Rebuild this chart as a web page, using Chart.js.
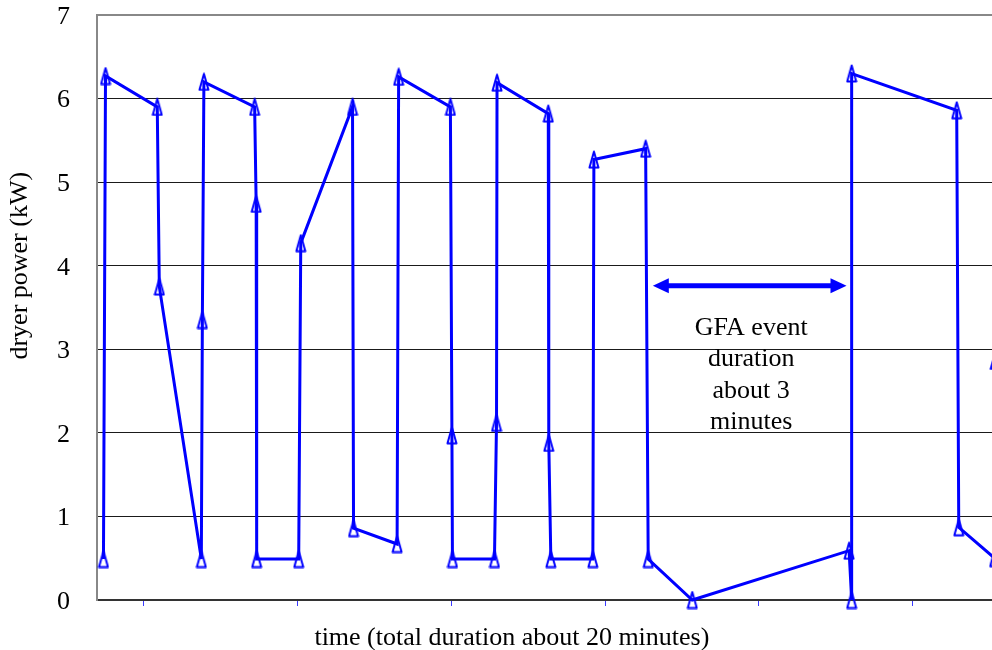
<!DOCTYPE html>
<html>
<head>
<meta charset="utf-8">
<script src="https://cdn.jsdelivr.net/npm/chart.js@4.4.1/dist/chart.umd.min.js"></script>
<style>
  html, body { margin: 0; padding: 0; background: #fff; }
  #wrap { width: 992px; height: 650px; overflow: hidden; }
  canvas { display: block; }
</style>
</head>
<body>
<div id="wrap"><canvas id="dryer" width="1100" height="650"></canvas></div>
<script>
// ====== DATA ======
// time in minutes (0 = first x tick, ticks every 3 min)
const timeMin = [
  -0.79, -0.75, 0.26, 0.30, 1.12, 1.14, 1.17, 2.16, 2.19, 2.20,
   3.02,  3.06, 4.07, 4.09, 4.94, 4.97, 5.98, 6.01, 6.02, 6.84,
   6.88,  6.89, 7.89, 7.90, 7.94, 8.76, 8.78, 9.79, 9.84, 10.70,
  13.76, 13.81, 13.81, 15.86, 15.90, 16.60, 16.61
];
const powerKW = [
  0.49, 6.27, 5.90, 3.75, 0.49, 3.35, 6.20, 5.90, 4.74, 0.49,
  0.49, 4.27, 5.90, 0.86, 0.67, 6.26, 5.90, 1.97, 0.49, 0.49,
  2.12, 6.19, 5.82, 1.88, 0.49, 0.49, 5.27, 5.40, 0.49, 0.00,
  0.59, 0.00, 6.30, 5.86, 0.87, 0.50, 2.86
];
const yTickMin = 0, yTickMax = 7, yTickStep = 1;
const xTickStep = 3;

const gfaArrowMin = [9.93, 13.71];   // ends of the double arrow
const gfaArrowKW  = 3.76;
const gfaLines = ['GFA event', 'duration', 'about 3', 'minutes'];

const xTitle = 'time (total duration about 20 minutes)';
const yTitle = 'dryer power (kW)';

// ====== LOOK ======
const BLUE = '#0000ff';
const FONT = "26px 'Liberation Serif', 'Times New Roman', serif";
const X_MIN = -0.916, X_MAX = 18.5;     // plot runs on past the right edge
const GFA_TEXT_AT = [11.85, 3.17];      // centre (min), first baseline (kW)
const X_TITLE_AT = 7.18;                // centre of x title (min)
const Y_TITLE_AT = 4.0;                 // centre of y title (kW)

// open triangle marker, a bit taller than wide
function triangleMarker() {
  const c = document.createElement('canvas');
  c.width = 12; c.height = 19;
  const g = c.getContext('2d');
  g.strokeStyle = BLUE;
  g.lineWidth = 2;
  g.lineJoin = 'round';
  g.beginPath();
  g.moveTo(6, 1.5);
  g.lineTo(10.5, 17.5);
  g.lineTo(1.5, 17.5);
  g.closePath();
  g.stroke();
  return c;
}

const points = timeMin.map((t, i) => ({ x: t, y: powerKW[i] }));

// ====== EXTRAS: arrow, note, axis titles ======
const extras = {
  id: 'extras',
  afterDatasetsDraw(chart) {
    const { ctx, chartArea, scales: { x, y } } = chart;
    ctx.save();

    // double-headed arrow
    const x0 = x.getPixelForValue(gfaArrowMin[0]);
    const x1 = x.getPixelForValue(gfaArrowMin[1]);
    const ya = y.getPixelForValue(gfaArrowKW);
    const head = 16, half = 7.5;
    ctx.strokeStyle = BLUE; ctx.fillStyle = BLUE;
    ctx.lineWidth = 5;
    ctx.beginPath(); ctx.moveTo(x0 + head - 2, ya); ctx.lineTo(x1 - head + 2, ya); ctx.stroke();
    ctx.beginPath(); ctx.moveTo(x0, ya); ctx.lineTo(x0 + head, ya - half); ctx.lineTo(x0 + head, ya + half); ctx.closePath(); ctx.fill();
    ctx.beginPath(); ctx.moveTo(x1, ya); ctx.lineTo(x1 - head, ya - half); ctx.lineTo(x1 - head, ya + half); ctx.closePath(); ctx.fill();

    // note text
    ctx.fillStyle = '#000';
    ctx.font = FONT;
    ctx.textAlign = 'center';
    ctx.textBaseline = 'alphabetic';
    const tx = x.getPixelForValue(GFA_TEXT_AT[0]);
    const ty = y.getPixelForValue(GFA_TEXT_AT[1]);
    gfaLines.forEach((s, i) => ctx.fillText(s, tx, ty + i * 31.3));

    // axis titles
    ctx.fillText(xTitle, x.getPixelForValue(X_TITLE_AT), chartArea.bottom + 45);
    ctx.translate(chartArea.left - 70, y.getPixelForValue(Y_TITLE_AT));
    ctx.rotate(-Math.PI / 2);
    ctx.fillText(yTitle, 0, 0);

    ctx.restore();
  }
};

// ====== CHART ======
new Chart(document.getElementById('dryer'), {
  type: 'line',
  data: {
    datasets: [{
      data: points,
      borderColor: BLUE,
      borderWidth: 3,
      tension: 0,
      fill: false,
      clip: false,
      pointStyle: triangleMarker(),
      pointRadius: 5,
      pointHoverRadius: 5
    }]
  },
  options: {
    responsive: false,
    animation: false,
    layout: { padding: { top: 15, right: 7, bottom: 0, left: 0 } },
    plugins: { legend: { display: false }, tooltip: { enabled: false } },
    scales: {
      x: {
        type: 'linear',
        min: X_MIN,
        max: X_MAX,
        border: { color: '#333', width: 2 },
        grid: { drawOnChartArea: false, drawTicks: true, tickLength: 6, color: '#3a3aff', lineWidth: 1 },
        ticks: { stepSize: xTickStep, includeBounds: false, callback: () => '' },
        afterFit(s) { s.height = 50; s.paddingLeft = 0; s.paddingRight = 0; }
      },
      y: {
        min: yTickMin,
        max: yTickMax,
        border: { color: '#888', width: 2 },
        grid: {
          drawTicks: false,
          color: c => c.tick.value === yTickMax ? '#888' : (c.tick.value === yTickMin ? 'rgba(0,0,0,0)' : '#1a1a1a'),
          lineWidth: c => c.tick.value === yTickMax ? 2 : 1
        },
        ticks: {
          stepSize: yTickStep,
          padding: 27,
          labelOffset: 2,
          color: '#000',
          font: { family: "'Liberation Serif', 'Times New Roman', serif", size: 26, lineHeight: 1 }
        },
        afterFit(s) { s.width = 97; s.paddingTop = 0; s.paddingBottom = 0; }
      }
    }
  },
  plugins: [extras]
});
</script>
</body>
</html>
